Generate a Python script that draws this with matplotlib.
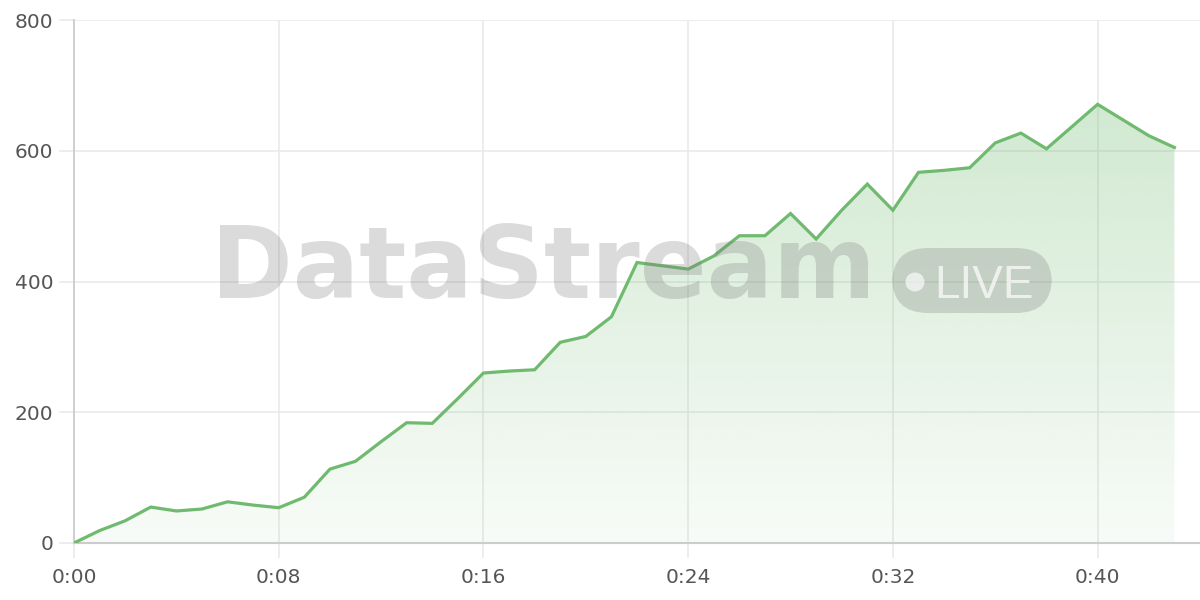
import matplotlib
matplotlib.use("Agg")
import matplotlib.pyplot as plt
import numpy as np
from matplotlib.patches import FancyBboxPatch, Circle

minutes = list(range(44))
values = [0, 19, 34, 55, 49, 52, 63, 58, 54, 70, 113, 125, 155, 184, 183, 221,
          260, 263, 265, 307, 316, 346, 429, 424, 419, 439, 470, 470, 504, 465,
          509, 549, 509, 567, 570, 574, 612, 627, 603, 637, 671, 647, 623, 605]
xticks = [0, 8, 16, 24, 32, 40]
xtick_labels = ["0:00", "0:08", "0:16", "0:24", "0:32", "0:40"]
yticks = [0, 200, 400, 600, 800]

line_color = "#6fba6f"
grid_color = "#e8e8e8"
axis_color = "#cccccc"
label_color = "#555555"

fig = plt.figure(figsize=(12, 6), dpi=100)
ax = fig.add_axes([74/1200, 57/600, 1126/1200, 523/600])

x = np.array(minutes, dtype=float)
y = np.array(values, dtype=float)

# gradient fill
poly = ax.fill_between(x, y, 0, color="none", lw=0)
ymax = y.max()
grad = np.zeros((256, 2, 4))
g = np.array([0x6f, 0xba, 0x6f]) / 255.0
alphas = np.linspace(0.32, 0.05, 256)  # top -> bottom
grad[:, :, 0] = g[0]
grad[:, :, 1] = g[1]
grad[:, :, 2] = g[2]
grad[:, :, 3] = alphas[:, None]
im = ax.imshow(grad, extent=[x.min(), x.max(), 0, ymax], aspect="auto",
               origin="upper", zorder=1)
path = poly.get_paths()[0]
im.set_clip_path(path, transform=ax.transData)

ax.plot(x, y, color=line_color, lw=2.3, zorder=3, solid_joinstyle="miter")

ax.set_xlim(0, 44)
ax.set_ylim(0, 800)
ax.set_xticks(xticks)
ax.set_xticklabels(xtick_labels)
ax.set_yticks(yticks)
ax.grid(True, color=grid_color, lw=1.1, zorder=0)
ax.set_axisbelow(True)
for s in ["top", "right"]:
    ax.spines[s].set_visible(False)
ax.spines["left"].set_color(axis_color)
ax.spines["left"].set_linewidth(1.3)
ax.spines["bottom"].set_color(axis_color)
ax.spines["bottom"].set_linewidth(1.5)
ax.tick_params(axis="both", length=11, width=1.1, color=grid_color,
               labelcolor=label_color, labelsize=14.5)
ax.tick_params(axis="y", pad=4)
ax.tick_params(axis="x", pad=7)
for lab in ax.get_xticklabels() + ax.get_yticklabels():
    lab.set_family("DejaVu Sans")

# watermark
wm_gray = "#7a7a7a"
fig.text(211/1200, 1 - 298/600, "DataStream", fontsize=71, fontweight="bold",
         family="DejaVu Sans", color=wm_gray, alpha=0.27,
         ha="left", va="baseline", zorder=10)
badge = FancyBboxPatch((892/1200, 1 - 313/600), 160/1200, 65/600,
                       boxstyle="round,pad=0,rounding_size=0.03",
                       transform=fig.transFigure, facecolor=wm_gray,
                       edgecolor="none", alpha=0.27, zorder=10,
                       mutation_aspect=2)
fig.patches.append(badge)
dot = Circle((915, 600 - 282), 9.5, transform=None, facecolor="white",
             edgecolor="none", alpha=0.65, zorder=11)
fig.patches.append(dot)
fig.text(934/1200, 1 - 298/600, "LIVE", fontsize=33, family="Liberation Sans",
         color="white", alpha=0.7, ha="left", va="baseline", zorder=11)

fig.savefig("out.png", dpi=100)
